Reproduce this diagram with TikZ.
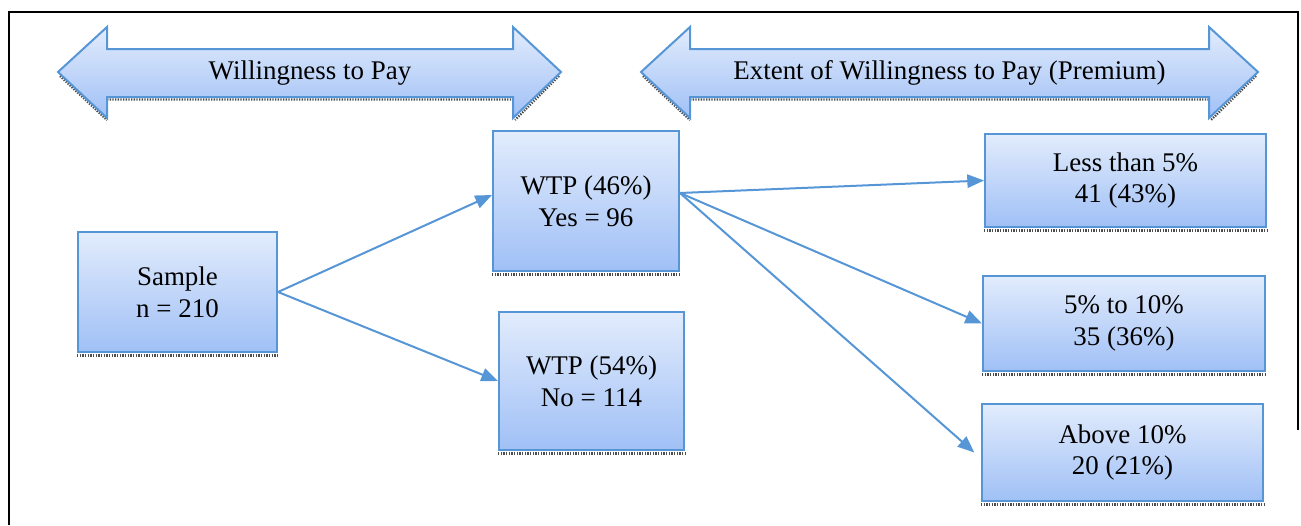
\documentclass[tikz,border=0pt]{standalone}
\usepackage{fontspec}
\setmainfont{Liberation Serif}
\usetikzlibrary{arrows.meta}

\definecolor{boxtop}{RGB}{226,236,252}
\definecolor{boxbot}{RGB}{160,192,246}
\definecolor{boxline}{RGB}{86,150,214}

\begin{document}
\begin{tikzpicture}[x=0.015cm,y=-0.015cm,>={Triangle[length=0.25cm,width=0.2cm]},
  box/.style={draw=boxline,line width=0.03cm,top color=boxtop,bottom color=boxbot,
    align=center,inner sep=0pt,font=\rmfamily\fontsize{11.5}{13.6}\selectfont},
  hdr/.style={draw=boxline,line width=0.03cm,top color=boxtop,bottom color=boxbot},
  hdrtext/.style={font=\rmfamily\fontsize{11.5}{13.6}\selectfont},
  link/.style={->,draw=boxline,line width=0.03cm},
  fuzz/.style={line width=0.035cm,gray!60!black,dash pattern=on 0.02cm off 0.02cm}]
  \useasboundingbox (0,0) rectangle (1301,525);
  \draw[line width=0.03cm] (8.5,525) -- (8.5,11.5) -- (1298,11.5) -- (1298,430);
  % header arrows
  \draw[fuzz] (60,76) -- (107,120) (107,99.5) -- (513,99.5) (559,76) -- (515,120);
  \draw[hdr] (58,72) -- (107,27) -- (107,49) -- (513,49) -- (513,27) -- (561,72)
    -- (513,118) -- (513,97) -- (107,97) -- (107,118) -- cycle;
  \node[hdrtext] (wtp) at (310,73) {Willingness to Pay};
  \draw[fuzz] (643,76) -- (690,120) (690,99.5) -- (1209,99.5) (1256,76) -- (1211,120);
  \draw[hdr] (641,72) -- (690,27) -- (690,49) -- (1209,49) -- (1209,27) -- (1258,72)
    -- (1209,118) -- (1209,97) -- (690,97) -- (690,118) -- cycle;
  \node[hdrtext] (ext) at (949.5,73) {Extent of Willingness to Pay (Premium)};
  % boxes
  \node[box,minimum width=2.985cm,minimum height=1.8cm] (sample) at (177.5,292) {Sample\\n = 210};
  \node[box,minimum width=2.79cm,minimum height=2.1cm] (yes) at (586,201) {WTP (46\%)\\Yes = 96};
  \node[box,minimum width=2.775cm,minimum height=2.07cm] (no) at (591.5,381) {WTP (54\%)\\No = 114};
  \node[box,minimum width=4.215cm,minimum height=1.395cm] (less) at (1125.5,180.5) {Less than 5\%\\41 (43\%)};
  \node[box,minimum width=4.23cm,minimum height=1.425cm] (mid) at (1124,323.5) {5\% to 10\%\\35 (36\%)};
  \node[box,minimum width=4.215cm,minimum height=1.455cm] (above) at (1122.5,452.5) {Above 10\%\\20 (21\%)};
  \foreach \b in {sample,yes,no,less,mid,above}
    \draw[fuzz] ([yshift=-0.035cm]\b.south west) -- ([yshift=-0.035cm]\b.south east);
  % links
  \coordinate (yes in) at ([yshift=0.09cm]yes.west);
  \coordinate (yes out) at ([yshift=0.12cm]yes.east);
  \draw[link] (sample.east) -- (yes in);
  \draw[link] (sample.east) -- (no.west);
  \draw[link] (yes out) -- (less.west);
  \draw[link] (yes out) -- (mid.west);
  \draw[link] (yes out) -- ([xshift=-0.1cm]above.west);
\end{tikzpicture}
\end{document}
